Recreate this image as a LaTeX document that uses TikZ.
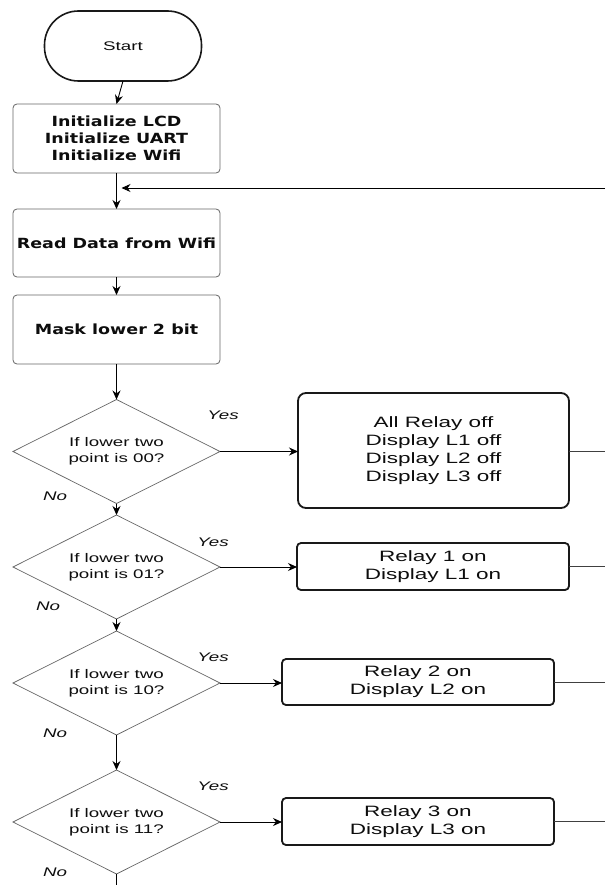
\documentclass[tikz,border=0pt]{standalone}
\usepackage{fontspec}
\setmainfont{Liberation Sans}
\newfontfamily\regf{Liberation Sans}[FakeStretch=1.5]
\newfontfamily\boldf{DejaVu Sans}[FakeStretch=1.25]
\usetikzlibrary{shapes.geometric,arrows.meta}
\begin{document}
\begin{tikzpicture}[x=1pt,y=-1pt,
  every node/.style={inner sep=0pt, outer sep=0pt, text=black!95},
  termbox/.style={draw=black!90, line width=1.6pt, rounded corners=34pt, minimum width=157pt, minimum height=70pt, font=\regf\fontsize{12.5}{15}\selectfont},
  graybox/.style={draw=black!60, line width=0.8pt, rounded corners=4pt, minimum width=207pt, align=center, font=\boldf\bfseries\fontsize{14}{17}\selectfont},
  actbox/.style={draw=black!90, line width=1.8pt, rounded corners=4pt, minimum width=272pt, align=center, font=\regf\fontsize{15}{18}\selectfont},
  decision/.style={diamond, draw=black!60, line width=0.7pt, aspect=2, minimum width=207pt, minimum height=104pt, align=center, font=\regf\fontsize{12.5}{16}\selectfont},
  lbl/.style={font=\regf\itshape\fontsize{12.5}{15}\selectfont},
  flow/.style={draw=black, line width=0.9pt, -{Stealth[length=9pt,width=8pt]}},
  exitline/.style={draw=black!75, line width=0.7pt}
]
\useasboundingbox (0,0) rectangle (605,885);
\fill[white] (0,0) rectangle (605,885);

\node[termbox] (start) at (123,46) {Start};
\node[graybox, minimum height=69pt] (init) at (116.5,138.5) {Initialize LCD\\Initialize UART\\Initialize Wifi};
\node[graybox, minimum height=68pt] (read) at (116.5,243) {Read Data from Wifi};
\node[graybox, minimum height=69pt] (mask) at (116.5,329.5) {Mask lower 2 bit};

\node[decision] (d1) at (116.5,451.5) {If lower two\\point is 00?};
\node[decision] (d2) at (116.5,567) {If lower two\\point is 01?};
\node[decision] (d3) at (116.5,683) {If lower two\\point is 10?};
\node[decision] (d4) at (116.5,822) {If lower two\\point is 11?};

\node[actbox, rounded corners=8pt, minimum width=271pt, minimum height=115pt] (b1) at (433.5,450.5) {All Relay off\\Display L1 off\\Display L2 off\\Display L3 off};
\node[actbox, minimum height=47pt] (b2) at (433,566.5) {Relay 1 on\\Display L1 on};
\node[actbox, minimum height=46pt] (b3) at (418,682) {Relay 2 on\\Display L2 on};
\node[actbox, minimum height=47pt] (b4) at (418,821.5) {Relay 3 on\\Display L3 on};

\node[lbl] (y1) at (223,415) {Yes};
\node[lbl] (y2) at (213,542) {Yes};
\node[lbl] (y3) at (213,657) {Yes};
\node[lbl] (y4) at (213,786) {Yes};
\node[lbl] (n1) at (55,496) {No};
\node[lbl] (n2) at (48,606) {No};
\node[lbl] (n3) at (55,733) {No};
\node[lbl] (n4) at (55,872) {No};

\coordinate (R) at (605,0);
\coordinate (fb) at (605,188);
\coordinate (bottom) at (116.5,885);

\draw[flow] (start.south) -- (init.north);
\draw[flow] (init.south) -- (read.north);
\draw[flow] (fb) -- ([xshift=5pt]fb -| init.south);
\draw[flow] (read.south) -- (mask.north);
\draw[flow] (mask.south) -- (d1.north);
\draw[flow] (d1.south) -- (d2.north);
\draw[flow] (d2.south) -- (d3.north);
\draw[flow] (d3.south) -- (d4.north);
\draw[line width=0.9pt] (d4.south) -- (bottom);

\draw[flow] (d1.east) -- (d1.east -| b1.west);
\draw[flow] (d2.east) -- (d2.east -| b2.west);
\draw[flow] (d3.east) -- (d3.east -| b3.west);
\draw[flow] (d4.east) -- (d4.east -| b4.west);

\draw[exitline] (b1.east |- d1.east) -- (d1.east -| R);
\draw[exitline] (b2.east) -- (b2.east -| R);
\draw[exitline] (b3.east) -- (b3.east -| R);
\draw[exitline] (b4.east) -- (b4.east -| R);
\end{tikzpicture}
\end{document}
